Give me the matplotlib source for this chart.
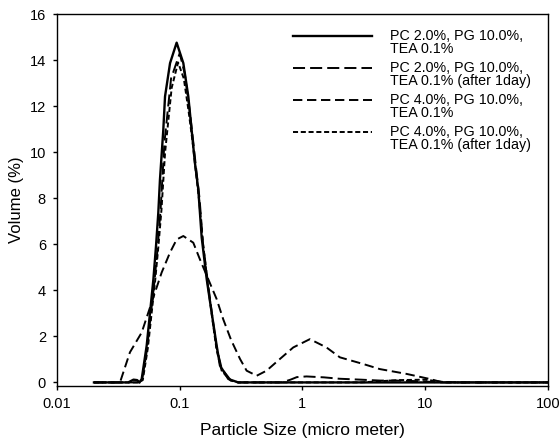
import matplotlib
matplotlib.use("Agg")
import matplotlib.pyplot as plt
from matplotlib.legend_handler import HandlerLine2D

plt.rcParams['font.family'] = ['Liberation Sans', 'DejaVu Sans']

# ---- data ----
labels = ["PC 2.0%, PG 10.0%,\nTEA 0.1%",
          "PC 2.0%, PG 10.0%,\nTEA 0.1% (after 1day)",
          "PC 4.0%, PG 10.0%,\nTEA 0.1%",
          "PC 4.0%, PG 10.0%,\nTEA 0.1% (after 1day)"]

x1 = [0.020, 0.030, 0.038, 0.042, 0.045, 0.047, 0.049, 0.0538, 0.0573, 0.061, 0.0641, 0.0669,
      0.069, 0.0735, 0.0759, 0.0834, 0.0944, 0.107, 0.1175, 0.125, 0.133, 0.1416, 0.151, 0.166,
      0.182, 0.200, 0.213, 0.249, 0.30, 1.0, 10, 100]
y1 = [0, 0, 0, 0.12, 0.1, 0, 0.15, 1.6, 3.04, 4.48, 5.93, 7.37,
      8.8, 10.98, 12.42, 13.87, 14.76, 13.87, 12.42, 10.98, 9.54, 8.4, 6.3, 4.48,
      3.04, 1.6, 0.73, 0.15, 0, 0, 0, 0]

x2 = [0.02, 0.045, 0.049, 0.054, 0.058, 0.062, 0.066, 0.07, 0.075, 0.085, 0.1, 0.11, 0.12,
      0.128, 0.136, 0.145, 0.155, 0.17, 0.185, 0.2, 0.22, 0.26, 0.3, 0.68, 0.8, 0.9, 1.08,
      1.5, 2.0, 3.0, 4.3, 6.0, 8.0, 10, 13, 100]
y2 = [0, 0, 0, 1.4, 2.9, 4.3, 5.8, 7.6, 10.4, 13.2, 14.3, 13.4, 11.9,
      10.6, 9.3, 8.0, 6.0, 4.3, 2.8, 1.5, 0.6, 0.1, 0, 0, 0.12, 0.23, 0.26,
      0.22, 0.16, 0.12, 0.08, 0.08, 0.06, 0.04, 0, 0]

x3 = [0.02, 0.0326, 0.0393, 0.049, 0.0555, 0.0629, 0.0712, 0.0833, 0.0944, 0.107, 0.129,
      0.146, 0.171, 0.2, 0.226, 0.262, 0.31, 0.351, 0.424, 0.51, 0.656, 0.842, 1.15, 1.57,
      2.02, 3.13, 4.27, 7.06, 10.9, 13.5, 20, 100]
y3 = [0, 0, 1.31, 2.17, 3.04, 3.91, 4.77, 5.64, 6.21, 6.36, 6.07,
      5.35, 4.48, 3.62, 2.75, 1.85, 1.02, 0.51, 0.29, 0.51, 1.02, 1.52, 1.88, 1.52,
      1.09, 0.8, 0.58, 0.37, 0.15, 0.02, 0, 0]

x4 = [0.02, 0.046, 0.05, 0.055, 0.059, 0.063, 0.067, 0.071, 0.076, 0.086, 0.097, 0.108,
      0.118, 0.127, 0.135, 0.144, 0.155, 0.17, 0.185, 0.2, 0.22, 0.26, 0.3, 3.0, 6, 10, 15, 100]
y4 = [0, 0, 0.1, 1.5, 3.0, 4.4, 5.9, 7.5, 10.0, 12.8, 13.9, 13.2,
      11.8, 10.5, 9.2, 7.9, 6.0, 4.2, 2.7, 1.4, 0.5, 0.08, 0, 0, 0.1, 0.12, 0, 0]

xticks = [0.01, 0.1, 1, 10, 100]
xticklabels = ["0.01", "0.1", "1", "10", "100"]
yticks = [0, 2, 4, 6, 8, 10, 12, 14, 16]

# ---- figure ----
fig = plt.figure(figsize=(5.59, 4.41), dpi=100)
ax = fig.add_axes([0.102, 0.125, 0.878, 0.843])

lw = 1.4
ax.plot(x1, y1, color='black', lw=1.7, label=labels[0])
ax.plot(x2, y2, color='black', lw=lw, dashes=(6.2, 2.6), label=labels[1])
ax.plot(x3, y3, color='black', lw=lw, dashes=(4.8, 2.4), label=labels[2])
ax.plot(x4, y4, color='black', lw=lw, dashes=(2.6, 1.4), label=labels[3])

ax.set_xscale('log')
ax.set_xlim(0.01, 100)
ax.set_ylim(-0.15, 16)
ax.set_xticks(xticks)
ax.set_xticklabels(xticklabels)
ax.xaxis.set_minor_locator(matplotlib.ticker.NullLocator())
ax.set_yticks(yticks)
ax.tick_params(axis='both', direction='out', length=3, width=1, labelsize=10.5, pad=5)

for s in ax.spines.values():
    s.set_linewidth(1.0)

ax.set_xlabel("Particle Size (micro meter)", fontsize=12.5, labelpad=9)
ax.set_ylabel("Volume (%)", fontsize=12, labelpad=4)


class TopHandler(HandlerLine2D):
    def create_artists(self, legend, orig_handle, xdescent, ydescent,
                       width, height, fontsize, trans):
        arts = super().create_artists(legend, orig_handle, xdescent, ydescent,
                                      width, height, fontsize, trans)
        for a in arts:
            yd = a.get_ydata()
            a.set_ydata([v + 0.5 * fontsize for v in yd])
        return arts


handles, labs = ax.get_legend_handles_labels()
leg = ax.legend(handles, labs, loc='upper left', bbox_to_anchor=(293 / 559, 1 - 29 / 441),
                bbox_transform=fig.transFigure, frameon=False, fontsize=10.3,
                handlelength=5.5, handletextpad=1.3, labelspacing=0.34,
                borderaxespad=0, borderpad=0,
                handler_map={h: TopHandler() for h in handles})
for t in leg.get_texts():
    t.set_linespacing(0.92)

fig.savefig("out.png", dpi=100)
